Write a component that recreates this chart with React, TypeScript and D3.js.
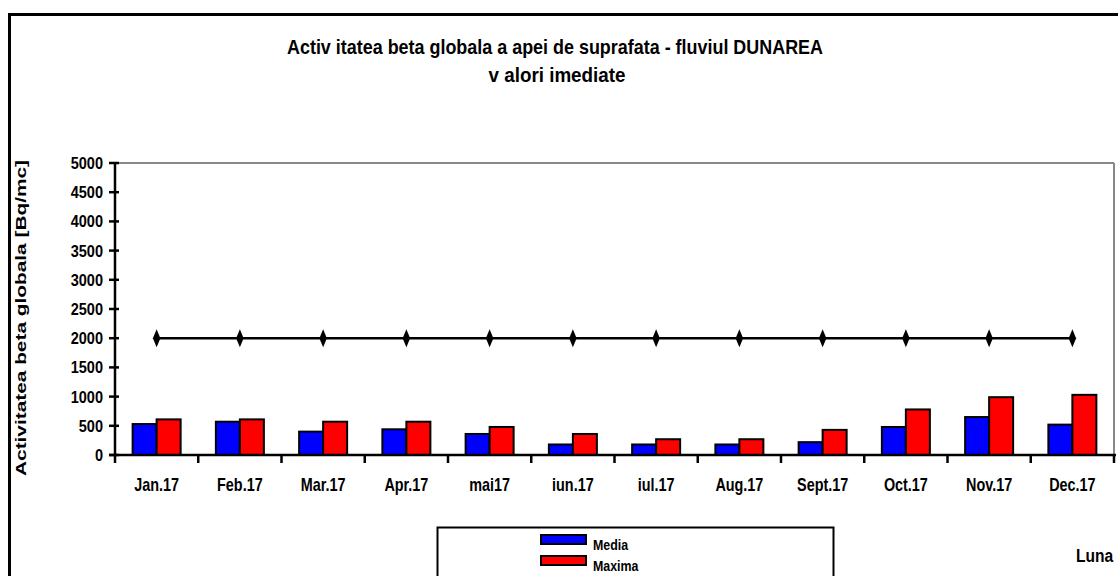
import React from "react";
import * as d3 from "d3";

const categories = ["Jan.17", "Feb.17", "Mar.17", "Apr.17", "mai17", "iun.17", "iul.17", "Aug.17", "Sept.17", "Oct.17", "Nov.17", "Dec.17"];
const media = [530, 570, 400, 440, 360, 180, 180, 180, 220, 480, 650, 520];
const maxima = [610, 610, 570, 570, 480, 360, 270, 270, 430, 780, 990, 1030];
const limita = [2000, 2000, 2000, 2000, 2000, 2000, 2000, 2000, 2000, 2000, 2000, 2000];
const yTicks = [0, 500, 1000, 1500, 2000, 2500, 3000, 3500, 4000, 4500, 5000];

const W = 1118, H = 576;
const left = 115, right = 1114, top = 163, bottom = 455;
const font = "'Liberation Sans', Arial, sans-serif";

function sx(cx: number, k: number) {
  return `translate(${cx},0) scale(${k},1) translate(${-cx},0)`;
}

export default function App() {
  const x = d3.scaleBand<string>().domain(categories).range([left, right]);
  const y = d3.scaleLinear().domain([0, 5000]).range([bottom, top]);
  const bw = 24;
  const line = d3.line<number>().x((_, i) => x(categories[i])! + x.bandwidth() / 2).y((d) => y(d));
  const diamond = d3.symbol().type(d3.symbolDiamond).size(60);

  return (
    <svg width={W} height={H} style={{ position: "absolute", left: 0, top: 0, background: "#fff" }} fontFamily={font}>
      <rect x={0} y={0} width={W} height={H} fill="#fff" />
      <rect x={9.5} y={14.5} width={W + 20} height={H + 20} fill="none" stroke="#000" strokeWidth={3} />
      <text x={555} y={54} textAnchor="middle" fontSize={21} fontWeight="bold" textLength={536} lengthAdjust="spacingAndGlyphs">
        Activ itatea beta globala a apei de suprafata - fluviul DUNAREA
      </text>
      <text x={557} y={82} textAnchor="middle" fontSize={21} fontWeight="bold" textLength={137} lengthAdjust="spacingAndGlyphs">
        v alori imediate
      </text>
      {/* plot area frame */}
      <line x1={left} x2={right} y1={top} y2={top} stroke="#888" strokeWidth={2} />
      <line x1={right} x2={right} y1={top} y2={bottom} stroke="#888" strokeWidth={2} />
      {/* bars */}
      {categories.map((c, i) => {
        const cx = x(c)! + x.bandwidth() / 2;
        return (
          <g key={c}>
            <rect x={cx - bw} y={y(media[i])} width={bw} height={bottom - y(media[i])} fill="#0000ff" stroke="#000" strokeWidth={2} />
            <rect x={cx} y={y(maxima[i])} width={bw} height={bottom - y(maxima[i])} fill="#ff0000" stroke="#000" strokeWidth={2} />
          </g>
        );
      })}
      {/* limit line */}
      <path d={line(limita)!} fill="none" stroke="#000" strokeWidth={2.5} />
      {limita.map((v, i) => (
        <path key={i} d={diamond()!} transform={`translate(${x(categories[i])! + x.bandwidth() / 2},${y(v)}) scale(0.9,1.25)`} fill="#000" />
      ))}
      {/* y axis */}
      <line x1={left} x2={left} y1={top} y2={bottom + 8} stroke="#000" strokeWidth={2.5} />
      {yTicks.map((t) => (
        <g key={t}>
          <line x1={left - 6} x2={left + 4} y1={y(t)} y2={y(t)} stroke="#000" strokeWidth={2.5} />
          <text x={left - 12} y={y(t) + 6} textAnchor="end" fontSize={16.5} fontWeight="bold" transform={sx(left - 12, 0.88)}>{t}</text>
        </g>
      ))}
      {/* x axis */}
      <line x1={left - 6} x2={right + 2} y1={bottom} y2={bottom} stroke="#000" strokeWidth={2.5} />
      {categories.map((c, i) => (
        <line key={"t" + i} x1={x(c)! + x.bandwidth()} x2={x(c)! + x.bandwidth()} y1={bottom} y2={bottom + 8} stroke="#000" strokeWidth={2.5} />
      ))}
      {categories.map((c) => (
        <text key={"l" + c} x={x(c)! + x.bandwidth() / 2} y={491} textAnchor="middle" fontSize={18} fontWeight="bold" transform={sx(x(c)! + x.bandwidth() / 2, 0.8)}>
          {c}
        </text>
      ))}
      {/* y label */}
      <text transform="translate(26,318) rotate(-90)" textAnchor="middle" fontSize={14.5} fontWeight="bold" textLength={316} lengthAdjust="spacingAndGlyphs">
        Activitatea beta globala [Bq/mc]
      </text>
      {/* legend */}
      <rect x={437.5} y={527.5} width={396} height={80} fill="#fff" stroke="#000" strokeWidth={2} />
      <rect x={541} y={535} width={45} height={9} fill="#0000ff" stroke="#000" strokeWidth={2} />
      <text x={593} y={550} fontSize={15.5} fontWeight="bold" transform={sx(593, 0.8)}>Media</text>
      <rect x={541} y={556} width={45} height={9} fill="#ff0000" stroke="#000" strokeWidth={2} />
      <text x={593} y={571} fontSize={15.5} fontWeight="bold" transform={sx(593, 0.8)}>Maxima</text>
      <text x={1076} y={562} fontSize={19} fontWeight="bold" transform={sx(1076, 0.82)}>Luna</text>
    </svg>
  );
}
